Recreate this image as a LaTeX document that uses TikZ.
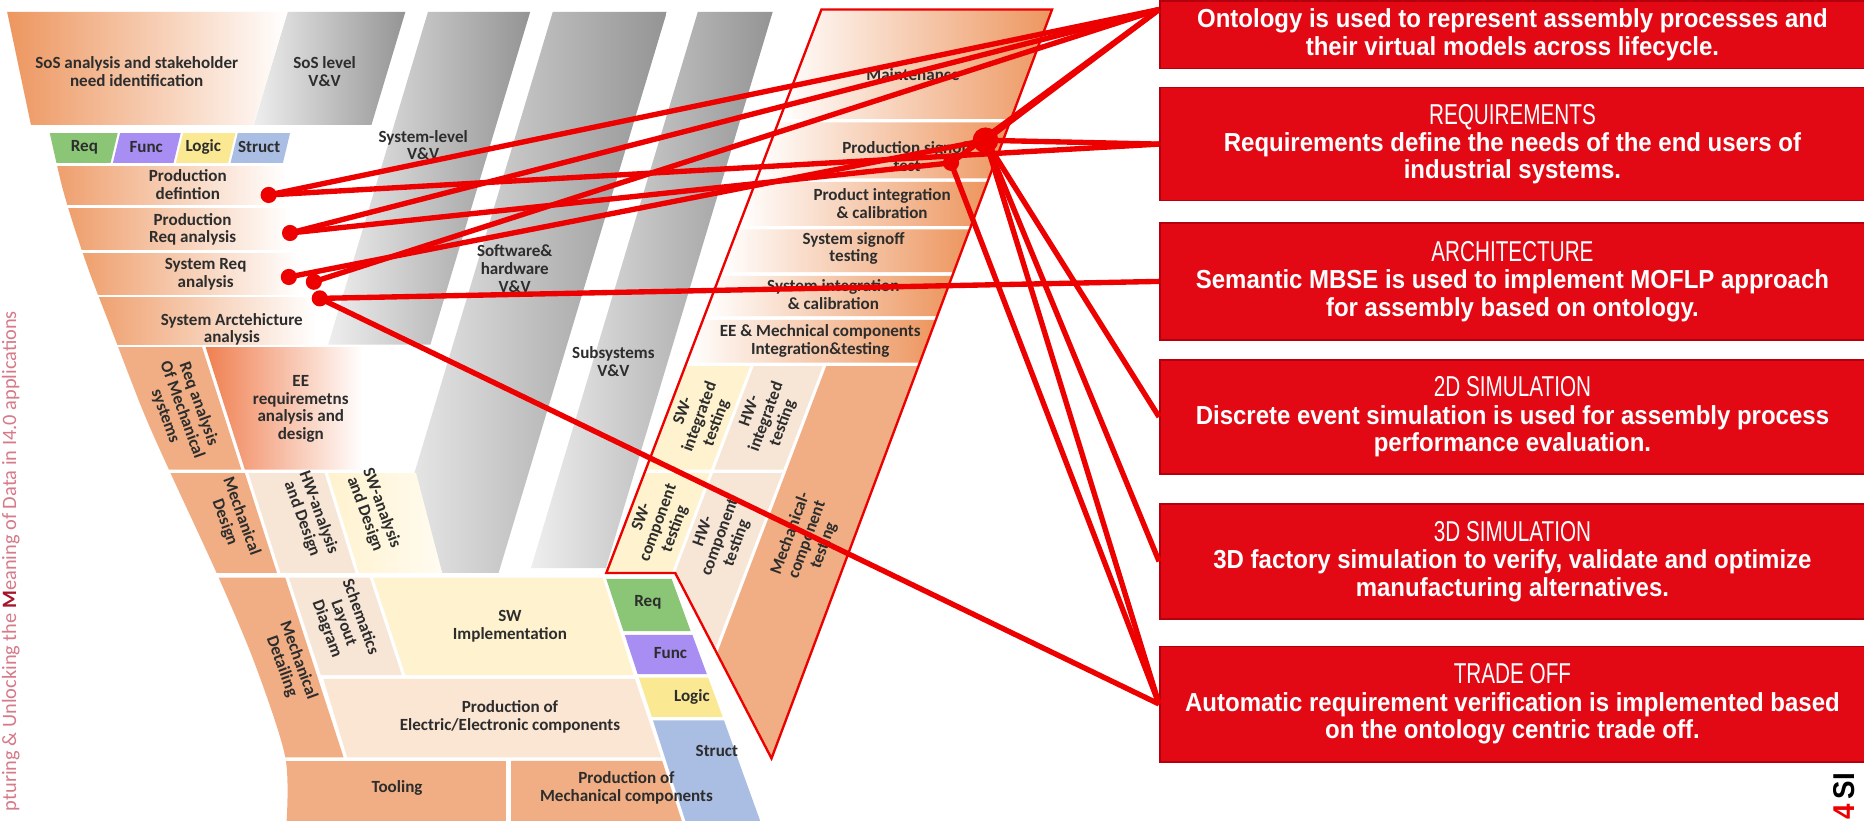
\documentclass[tikz,border=0pt]{standalone}
\usepackage{fontspec}
\newfontfamily\vfont{Carlito}
\newfontfamily\boxfont[FakeStretch=0.92]{Liberation Sans}
\newfontfamily\headfont[FakeStretch=0.72]{Liberation Sans}
\usetikzlibrary{calc}
\definecolor{vorange}{RGB}{237,150,95}
\definecolor{vblock}{RGB}{241,174,132}
\definecolor{vbeige}{RGB}{247,229,214}
\definecolor{vyellow}{RGB}{255,242,206}
\definecolor{vpeach}{RGB}{251,229,211}
\definecolor{reqgreen}{RGB}{138,198,118}
\definecolor{funcpurple}{RGB}{168,142,242}
\definecolor{logicyellow}{RGB}{250,232,146}
\definecolor{structblue}{RGB}{170,190,228}
\definecolor{bandlight}{RGB}{238,238,238}
\definecolor{banddark}{RGB}{148,148,148}
\definecolor{vtext}{RGB}{45,45,45}
\definecolor{linkred}{RGB}{236,0,0}
\definecolor{boxred}{RGB}{226,8,20}
\definecolor{boxedge}{RGB}{180,0,12}
\definecolor{sidetext}{RGB}{214,122,138}
\definecolor{sidemark}{RGB}{165,20,40}
\newcommand\boxhead{\headfont\mdseries\fontsize{8.6}{8.2}\selectfont}
\tikzset{
  vtxt/.style={font=\vfont\bfseries\fontsize{5.1}{5.3}\selectfont,text=vtext,
    align=center,inner sep=0pt},
  band/.style={left color=bandlight,right color=banddark},
  lrow/.style={left color=vorange,right color=white},
  rrow/.style={left color=white,right color=vorange},
  vframe/.style={draw=linkred,line width=0.7pt},
  infobox/.style={rectangle,draw=boxedge,fill=boxred,line width=0.5pt,
    minimum width=7.4125cm,anchor=north west,inner sep=0pt,text=white,
    align=center,font=\boxfont\bfseries\fontsize{7.8}{8.2}\selectfont},
  link/.style={draw=linkred,line width=1.6pt},
  pin/.style={circle,fill=linkred,inner sep=0pt,minimum size=0.17cm},
  hubpin/.style={pin,minimum size=0.27cm},
}

\begin{document}
\begin{tikzpicture}[x=0.0125cm,y=-0.0125cm]
  \useasboundingbox (0,0) rectangle (1568,690);
  \fill[white] (0,0) rectangle (1568,690);

  % V&V bands
  \shade[band] (242,10) -- (341,10) -- (312.5,105) -- (213.5,105) -- cycle;
  \shade[band] (360,10) -- (446,10) -- (362,290) -- (276,290) -- cycle;
  \shade[band] (465,10) -- (561,10) -- (419.4,482) -- (323.4,482) -- cycle;
  \shade[band] (587,10) -- (650,10) -- (509.6,478) -- (446.6,478) -- cycle;

  % left arm
  \shade[lrow] (6,10) -- (242,10) -- (213,105) -- (26,105) -- cycle;
  \begin{scope}
    \clip plot[smooth] coordinates {(41,108) (52,156) (63,193) (76,231) (91,270)
      (120,345) (143,397) (184,486) (215,560) (240,637) (241,692)}
      -- (1000,692) -- (1000,108) -- cycle;
    \fill[reqgreen] (0,112) -- (99,112) -- (93,137) -- (0,137) -- cycle;
    \fill[funcpurple] (101,112) -- (152,112) -- (146,137) -- (95,137) -- cycle;
    \fill[logicyellow] (154,112) -- (198,112) -- (192,137) -- (148,137) -- cycle;
    \fill[structblue] (200,112) -- (244,112) -- (238,137) -- (194,137) -- cycle;
    \shade[lrow] (30,140) rectangle (240,172);
    \shade[lrow] (40,175) rectangle (244,210);
    \shade[lrow] (50,213) rectangle (252,248);
    \shade[lrow] (60,250) rectangle (266,290);
    \fill[vblock] (60,292) -- (170,292) -- (203,395) -- (60,395) -- cycle;
    \shade[left color=vorange!85!red,right color=white]
      (173,292) -- (305,292) -- (305,395) -- (206,395) -- cycle;
    \fill[vblock] (60,398) -- (206,398) -- (233,482) -- (60,482) -- cycle;
    \fill[vbeige] (209,398) -- (273,398) -- (299,482) -- (236,482) -- cycle;
    \shade[left color=vyellow,right color=vyellow!30!white]
      (276,398) -- (350,398) -- (372,482) -- (302,482) -- cycle;
    \fill[vblock] (100,486) -- (240,486) -- (289,637) -- (100,637) -- cycle;
    \fill[vbeige] (243,486) -- (311,486) -- (338,568) -- (270,568) -- cycle;
    \fill[vyellow] (314,486) -- (507,486) -- (533,568) -- (341,568) -- cycle;
    \fill[vpeach] (272,571) -- (534,571) -- (556,637) -- (292,637) -- cycle;
    \fill[vblock] (100,640) -- (426,640) -- (426,692) -- (100,692) -- cycle;
    \fill[vblock] (430,640) -- (557,640) -- (574,692) -- (430,692) -- cycle;
    \fill[reqgreen] (510,487) -- (565,487) -- (581,531) -- (524.5,531) -- cycle;
    \fill[funcpurple] (525.5,534) -- (582.4,534) -- (594.6,567) -- (536.4,567) -- cycle;
    \fill[logicyellow] (537.4,570) -- (595.7,570) -- (607.9,603) -- (548.3,603) -- cycle;
    \fill[structblue] (549.3,606) -- (609,606) -- (640,692) -- (577,692) -- cycle;
  \end{scope}

  % right arm
  \shade[rrow] (691,8) -- (885,8) -- (850.5,100) -- (656,100) -- cycle;
  \shade[rrow] (654.9,103) -- (849.4,103) -- (831.8,150) -- (637,150) -- cycle;
  \shade[rrow] (635.9,153) -- (830.6,153) -- (816.8,190) -- (621.8,190) -- cycle;
  \shade[rrow] (620.7,193) -- (815.6,193) -- (802.1,229) -- (607,229) -- cycle;
  \shade[rrow] (605.9,232) -- (801,232) -- (788.3,266) -- (593,266) -- cycle;
  \shade[rrow] (591.8,269) -- (787.1,269) -- (773.6,305) -- (578.1,305) -- cycle;
  \fill[vyellow] (577,308) -- (631,308) -- (597.9,395) -- (543.9,395) -- cycle;
  \fill[vbeige] (634,308) -- (692,308) -- (658.9,395) -- (600.9,395) -- cycle;
  \fill[vblock] (695,308) -- (772.5,308) -- (649,638) -- (603.2,549.6) -- cycle;
  \fill[vyellow] (542.8,398) -- (596.8,398) -- (565,482) -- (510.9,482) -- cycle;
  \fill[vbeige] (599.8,398) -- (657.8,398) -- (601.4,546.3) -- (567.9,481.9) -- cycle;
  \draw[vframe] (691,8) -- (885,8) -- (649,638) -- (568,482) -- (510,482) -- cycle;

  % labels, left arm
  \node[vtxt] (sosan) at (115,60) {SoS analysis and stakeholder\\need identification};
  \node[vtxt] (soslvl) at (273,60) {SoS level\\V\&V};
  \node[vtxt] (syslvl) at (356,122) {System-level\\V\&V};
  \node[vtxt] (swhw) at (433,226) {Software\&\\hardware\\V\&V};
  \node[vtxt] (subsys) at (516,304) {Subsystems\\V\&V};
  \node[vtxt] (reqa) at (71,124) {Req};
  \node[vtxt] (funca) at (123,124) {Func};
  \node[vtxt] (logica) at (171,124) {Logic};
  \node[vtxt] (structa) at (218,124) {Struct};
  \node[vtxt] (proddef) at (158,155) {Production\\defintion};
  \node[vtxt] (prodreq) at (162,193) {Production\\Req analysis};
  \node[vtxt] (sysreq) at (173,231) {System Req\\analysis};
  \node[vtxt] (sysarch) at (195,277) {System Arctehicture\\analysis};
  \node[vtxt,rotate=-70] (mechreq) at (153,345) {Req analysis\\Of Mechanical\\systems};
  \node[vtxt] (eereq) at (253,344) {EE\\requiremetns\\analysis and\\design};
  \node[vtxt,rotate=-70] (mechdes) at (196,437) {Mechanical\\Design};
  \node[vtxt,rotate=-70] (hwdes) at (261,434) {HW-analysis\\and Design};
  \node[vtxt,rotate=-70] (swdes) at (314,430) {SW-analysis\\and Design};
  \node[vtxt,rotate=-70] (mechdet) at (244,558) {Mechanical\\Detailing};
  \node[vtxt,rotate=-70] (schem) at (289,524) {Schematics\\Layout\\Diagram};
  \node[vtxt] (swimpl) at (429,527) {SW\\Implementation};
  \node[vtxt] (prodee) at (429,603) {Production of\\Electric/Electronic components};
  \node[vtxt] (tooling) at (334,663) {Tooling};
  \node[vtxt] (prodmech) at (527,663) {Production of\\Mechanical components};
  \node[vtxt] (reqs) at (545,507) {Req};
  \node[vtxt] (funcs) at (564,549) {Func};
  \node[vtxt] (logics) at (582,586) {Logic};
  \node[vtxt] (structs) at (603,632) {Struct};

  % labels, right arm
  \node[vtxt] (maint) at (768,63) {Maintenance};
  \node[vtxt] (prodsign) at (763,132) {Production signoff\\test};
  \node[vtxt] (prodint) at (742,171) {Product integration\\\& calibration};
  \node[vtxt] (syssign) at (718,209) {System signoff\\testing};
  \node[vtxt] (sysint) at (701,248) {System integration\\\& calibration};
  \node[vtxt] (eemech) at (690,287) {EE \& Mechnical components\\Integration\&testing};
  \node[vtxt,rotate=70] (swint) at (589,351) {SW-\\integrated\\testing};
  \node[vtxt,rotate=70] (hwint) at (645,351) {HW-\\integrated\\testing};
  \node[vtxt,rotate=70] (swcomp) at (554,440) {SW-\\component\\testing};
  \node[vtxt,rotate=70] (hwcomp) at (606,452) {HW-\\component\\testing};
  \node[vtxt,rotate=70] (mechcomp) at (679,454) {Mechanical-\\component\\testing};

  % info boxes
  \node[infobox,minimum height=0.7125cm] (ont) at (975,0)
    {Ontology is used to represent assembly processes and\\their virtual models across lifecycle.};
  \node[infobox,minimum height=1.1875cm] (req) at (975,73)
    {{\boxhead REQUIREMENTS}\\Requirements define the needs of the end users of\\industrial systems.};
  \node[infobox,minimum height=1.225cm] (arch) at (975,187)
    {{\boxhead ARCHITECTURE}\\Semantic MBSE is used to implement MOFLP approach\\for assembly based on ontology.};
  \node[infobox,minimum height=1.2cm] (sim2) at (975,302)
    {{\boxhead 2D SIMULATION}\\Discrete event simulation is used for assembly process\\performance evaluation.};
  \node[infobox,minimum height=1.2125cm] (sim3) at (975,423)
    {{\boxhead 3D SIMULATION}\\3D factory simulation to verify, validate and optimize\\manufacturing alternatives.};
  \node[infobox,minimum height=1.2125cm] (trade) at (975,543)
    {{\boxhead TRADE OFF}\\Automatic requirement verification is implemented based\\on the ontology centric trade off.};

  % links
  \coordinate (ontpin) at ($(ont.north west)+(0,8)$);
  \coordinate (d1) at (226,164);
  \coordinate (d2) at (244,196);
  \coordinate (d3) at (243,233);
  \coordinate (d4) at (264,237);
  \coordinate (d5) at (269,251);
  \coordinate (hub) at (829,118);
  \coordinate (pp) at (800,137);
  \draw[link] (d1) -- (ontpin);
  \draw[link] (d1) -- (req.west);
  \draw[link] (d2) -- (ontpin);
  \draw[link] (d2) -- (pp);
  \draw[link] (d3) -- (hub);
  \draw[link] (d4) -- (ontpin);
  \draw[link] (d5) -- (arch.west);
  \draw[link] (d5) -- (trade.west);
  \draw[link] (hub) -- (ontpin);
  \draw[link] (pp) -- (ontpin);
  \draw[link] (hub) -- (req.west);
  \draw[link] (hub) -- (sim2.west);
  \draw[link] (hub) -- (sim3.west);
  \draw[link] (hub) -- (trade.west);
  \draw[link] (pp) -- (trade.west);
  \foreach \p in {d1,d2,d3,d4,d5,pp}
    \node[pin] at (\p) {};
  \node[hubpin] at (hub) {};

  % side caption and logo
  \node[font=\vfont\fontsize{6.1}{6.3}\selectfont,text=sidetext,rotate=90,
    anchor=east,inner sep=0pt] (sidecap) at (9,261)
    {pturing \& Unlocking the {\color{sidemark}\bfseries M}eaning of Data in I4.0 applications};
  \node[font=\boxfont\bfseries\fontsize{9}{9}\selectfont,rotate=90,anchor=west,
    inner sep=0pt] (logo) at (1551,690) {\textcolor{linkred}{4}\,SI};
\end{tikzpicture}
\end{document}
